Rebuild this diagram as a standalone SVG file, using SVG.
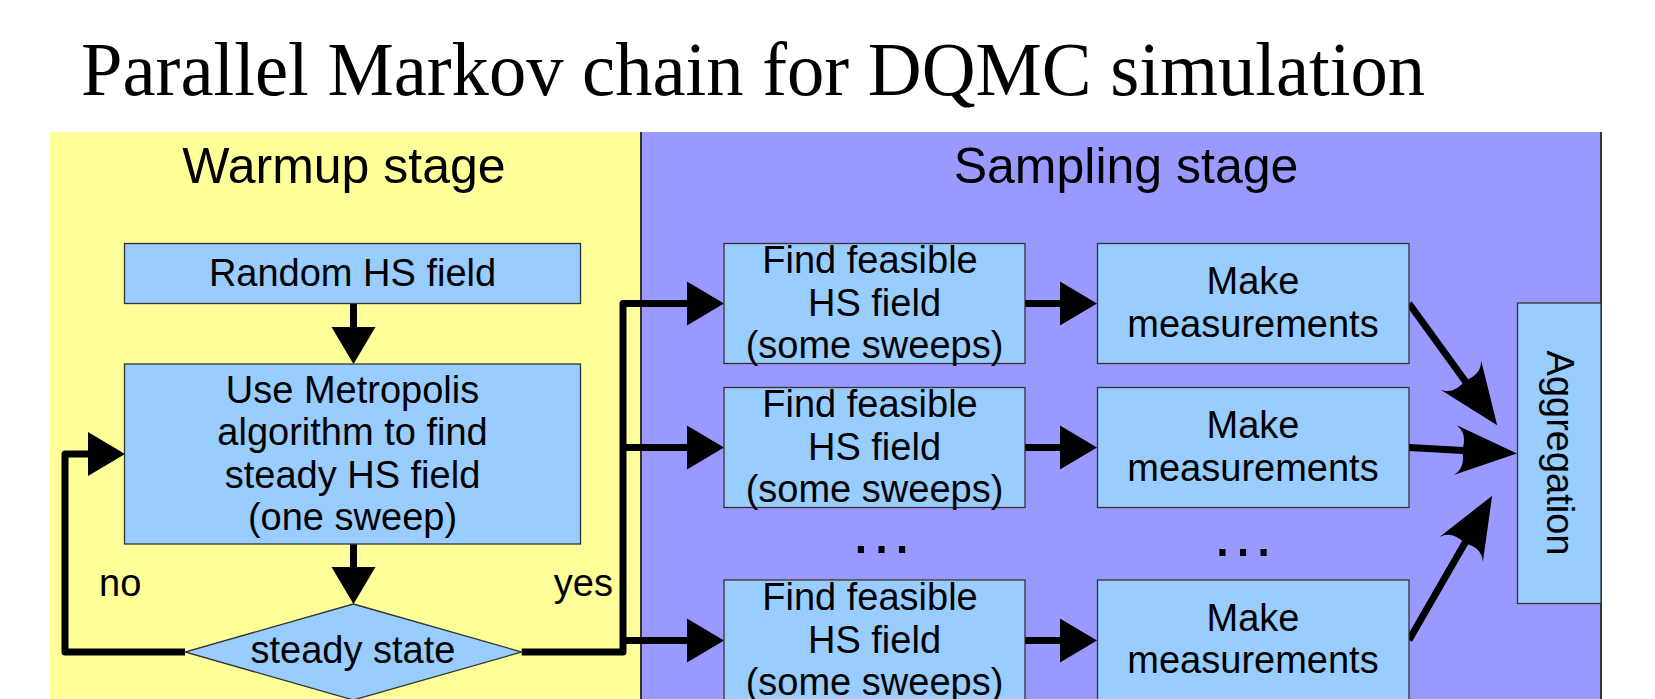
<svg xmlns="http://www.w3.org/2000/svg" width="1655" height="699" viewBox="0 0 1655 699">
  <style>
    .title { font-family: "Liberation Serif", "Times New Roman", serif; font-size: 76px; fill: #000; }
    .stage { font-family: "Liberation Sans", Arial, sans-serif; font-size: 50px; fill: #000; text-anchor: middle; }
    .lbl { font-family: "Liberation Sans", Arial, sans-serif; font-size: 38px; fill: #000; text-anchor: middle; }
    .side { font-family: "Liberation Sans", Arial, sans-serif; font-size: 38px; fill: #000; }
    .dots { font-family: "Liberation Sans", Arial, sans-serif; font-size: 65px; fill: #000; text-anchor: middle; }
    .box { fill: #99ccff; stroke: #333333; stroke-width: 1.3; }
    .wire { fill: none; stroke: #000; stroke-width: 7; stroke-linejoin: round; }
  </style>
  <defs>
    <marker id="tri" markerUnits="userSpaceOnUse" orient="auto" refX="0" refY="0" markerWidth="40" markerHeight="50" overflow="visible">
      <path d="M-1,-22 L36,0 L-1,22 Z" fill="#000"/>
    </marker>
    <marker id="barb" markerUnits="userSpaceOnUse" orient="auto" refX="0" refY="0" markerWidth="70" markerHeight="60" overflow="visible">
      <path d="M54,0 L-8,-25 Q4,-17 -1,0 Q4,17 -8,25 Z" fill="#000"/>
    </marker>
  </defs>

  <!-- heading -->
  <text class="title" x="81" y="95" textLength="1344" lengthAdjust="spacingAndGlyphs">Parallel Markov chain for DQMC simulation</text>

  <!-- stage panels -->
  <g id="warmup-panel">
    <rect x="49" y="132" width="592" height="567" fill="#ffff99"/>
    <text class="stage" x="344" y="183">Warmup stage</text>
  </g>
  <g id="sampling-panel">
    <rect x="641" y="132" width="960" height="567" fill="#9999ff"/>
    <line x1="641" y1="132" x2="641" y2="699" stroke="#333" stroke-width="2"/>
    <line x1="1601" y1="132" x2="1601" y2="699" stroke="#333" stroke-width="2"/>
    <text class="stage" x="1126" y="183">Sampling stage</text>
  </g>

  <!-- connectors -->
  <g id="connectors">
    <path class="wire" d="M353.5,303.5 V328" marker-end="url(#tri)"/>
    <path class="wire" d="M353.5,544 V568" marker-end="url(#tri)"/>
    <path class="wire" d="M185,652 H65 V454 H89" marker-end="url(#tri)"/>
    <path class="wire" d="M521.7,652 H623 V303.5 H688" marker-end="url(#tri)"/>
    <path class="wire" d="M623,447.5 H688" marker-end="url(#tri)"/>
    <path class="wire" d="M623,640.5 H688" marker-end="url(#tri)"/>
    <path class="wire" d="M1025,303.5 H1061" marker-end="url(#tri)"/>
    <path class="wire" d="M1025,447.5 H1061" marker-end="url(#tri)"/>
    <path class="wire" d="M1025,640.5 H1061" marker-end="url(#tri)"/>
    <path class="wire" d="M1409,303.5 L1465.5,381.5" marker-end="url(#barb)"/>
    <path class="wire" d="M1409,447.5 L1463,450.5" marker-end="url(#barb)"/>
    <path class="wire" d="M1409,640 L1465.2,542.5" marker-end="url(#barb)"/>
  </g>

  <!-- warmup flow -->
  <g id="random-hs">
    <rect class="box" x="124.5" y="243.5" width="456" height="60"/>
    <text class="lbl" x="352.5" y="286">Random HS field</text>
  </g>
  <g id="metropolis">
    <rect class="box" x="124.5" y="364" width="456" height="180"/>
    <text class="lbl" x="352.5" y="402.5">Use Metropolis</text>
    <text class="lbl" x="352.5" y="445">algorithm to find</text>
    <text class="lbl" x="352.5" y="487.5">steady HS field</text>
    <text class="lbl" x="352.5" y="530">(one sweep)</text>
  </g>
  <g id="steady-check">
    <polygon class="box" points="353.3,604 521.7,652 353.3,700 185,652"/>
    <text class="lbl" x="353" y="663">steady state</text>
  </g>
  <g id="branch-labels">
    <text class="side" x="99" y="596">no</text>
    <text class="side" x="613" y="596" text-anchor="end">yes</text>
  </g>

  <!-- sampling chains -->
  <g id="find-1">
    <rect class="box" x="724" y="243.5" width="301" height="120"/>
    <text class="lbl" x="870" y="273">Find feasible</text>
    <text class="lbl" x="874.5" y="315.5">HS field</text>
    <text class="lbl" x="874.5" y="358">(some sweeps)</text>
  </g>
  <g id="find-2">
    <rect class="box" x="724" y="387.5" width="301" height="120"/>
    <text class="lbl" x="870" y="417">Find feasible</text>
    <text class="lbl" x="874.5" y="459.5">HS field</text>
    <text class="lbl" x="874.5" y="502">(some sweeps)</text>
  </g>
  <g id="find-n">
    <rect class="box" x="724" y="580" width="301" height="125"/>
    <text class="lbl" x="870" y="610">Find feasible</text>
    <text class="lbl" x="874.5" y="652.5">HS field</text>
    <text class="lbl" x="874.5" y="695">(some sweeps)</text>
  </g>
  <g id="measure-1">
    <rect class="box" x="1097.5" y="243.5" width="311.5" height="120"/>
    <text class="lbl" x="1253" y="294">Make</text>
    <text class="lbl" x="1253" y="336.5">measurements</text>
  </g>
  <g id="measure-2">
    <rect class="box" x="1097.5" y="387.5" width="311.5" height="120"/>
    <text class="lbl" x="1253" y="438">Make</text>
    <text class="lbl" x="1253" y="480.5">measurements</text>
  </g>
  <g id="measure-n">
    <rect class="box" x="1097.5" y="580" width="311.5" height="125"/>
    <text class="lbl" x="1253" y="630.5">Make</text>
    <text class="lbl" x="1253" y="673">measurements</text>
  </g>
  <g id="ellipsis">
    <text class="dots" x="881.5" y="553">…</text>
    <text class="dots" x="1243" y="556">…</text>
  </g>
  <g id="aggregation">
    <rect class="box" x="1517.5" y="303" width="83.5" height="300.5"/>
    <text class="lbl" transform="translate(1547,453) rotate(90)">Aggregation</text>
  </g>
</svg>
